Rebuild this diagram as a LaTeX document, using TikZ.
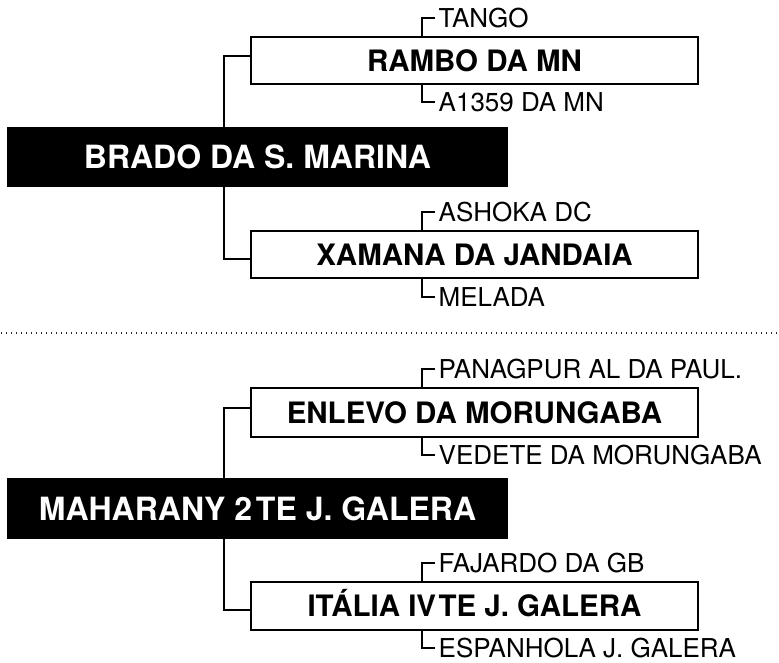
\documentclass[tikz,border=0pt]{standalone}
\usepackage{fontspec}
\setmainfont{TeX Gyre Heros}
\begin{document}
\begin{tikzpicture}[x=1pt,y=-1pt,
  conn/.style={draw=black,line width=2.3pt,line cap=rect},
  blackbox/.style={fill=black,text=white,inner sep=0pt,minimum width=501pt,
    font=\fontsize{32}{36}\selectfont\bfseries,text height=23pt,text depth=0pt},
  whitebox/.style={draw=black,fill=white,line width=2.3pt,inner sep=0pt,minimum width=447pt,
    font=\fontsize{29.5}{33}\selectfont\bfseries,text height=21.2pt,text depth=0pt},
  lbl/.style={anchor=west,inner xsep=4.5pt,inner ysep=0pt,
    font=\fontsize{26}{30}\selectfont,text height=18.7pt,text depth=0pt},
  sep/.style={draw=black!85,line width=1.3pt,dash pattern=on 1.3pt off 3.7pt}
]
\useasboundingbox (0,0) rectangle (779,662);

% ---------- upper pedigree ----------
\node[blackbox,minimum height=60pt] (brado) at (257.5,157) {BRADO DA S.\ MARINA};
\node[whitebox,minimum height=47pt] (rambo) at (474.5,60.5) {RAMBO DA MN};
\node[whitebox,minimum height=47pt] (xamana) at (474.5,254.5) {XAMANA DA JANDAIA};

\coordinate (j1) at (224,56);
\coordinate (j2) at (224,259);
\draw[conn] (brado.north -| j1) -- (j1) -- (j1 -| rambo.west);
\draw[conn] (brado.south -| j2) -- (j2) -- (j2 -| xamana.west);

\node[lbl] (tango) at (434,18) {TANGO};
\node[lbl] (a1359) at (434,102) {A1359 DA MN};
\node[lbl] (ashoka) at (434,212) {ASHOKA DC};
\node[lbl] (melada) at (434,297) {MELADA};
\coordinate (b1) at (422,18);
\coordinate (b2) at (422,102);
\coordinate (b3) at (422,212);
\coordinate (b4) at (422,297);
\draw[conn] (b1 |- rambo.north) -- (b1) -- (tango.west);
\draw[conn] (b2 |- rambo.south) -- (b2) -- (a1359.west);
\draw[conn] (b3 |- xamana.north) -- (b3) -- (ashoka.west);
\draw[conn] (b4 |- xamana.south) -- (b4) -- (melada.west);

% ---------- separator ----------
\coordinate (s1) at (1,333);
\coordinate (s2) at (779,333);
\draw[sep] (s1) -- (s2);

% ---------- lower pedigree ----------
\node[blackbox,minimum height=61pt] (maha) at (257.5,508.5) {MAHARANY 2\hspace{0.12em}TE J.\ GALERA};
\node[whitebox,minimum height=49pt] (enlevo) at (474.5,412.5) {ENLEVO DA MORUNGABA};
\node[whitebox,minimum height=48pt] (italia) at (474.5,606) {ITÁLIA IV\hspace{0.08em}TE J.\ GALERA};

\coordinate (j3) at (224,408);
\coordinate (j4) at (224,610);
\draw[conn] (maha.north -| j3) -- (j3) -- (j3 -| enlevo.west);
\draw[conn] (maha.south -| j4) -- (j4) -- (j4 -| italia.west);

\node[lbl] (panag) at (434,369) {PANAGPUR AL DA PAUL.};
\node[lbl] (vedete) at (434,455) {VEDETE DA MORUNGABA};
\node[lbl] (fajardo) at (434,563) {FAJARDO DA GB};
\node[lbl] (espanhola) at (434,648) {ESPANHOLA J.\ GALERA};
\coordinate (b5) at (422,369);
\coordinate (b6) at (422,455);
\coordinate (b7) at (422,563);
\coordinate (b8) at (422,648);
\draw[conn] (b5 |- enlevo.north) -- (b5) -- (panag.west);
\draw[conn] (b6 |- enlevo.south) -- (b6) -- (vedete.west);
\draw[conn] (b7 |- italia.north) -- (b7) -- (fajardo.west);
\draw[conn] (b8 |- italia.south) -- (b8) -- (espanhola.west);
\end{tikzpicture}
\end{document}
